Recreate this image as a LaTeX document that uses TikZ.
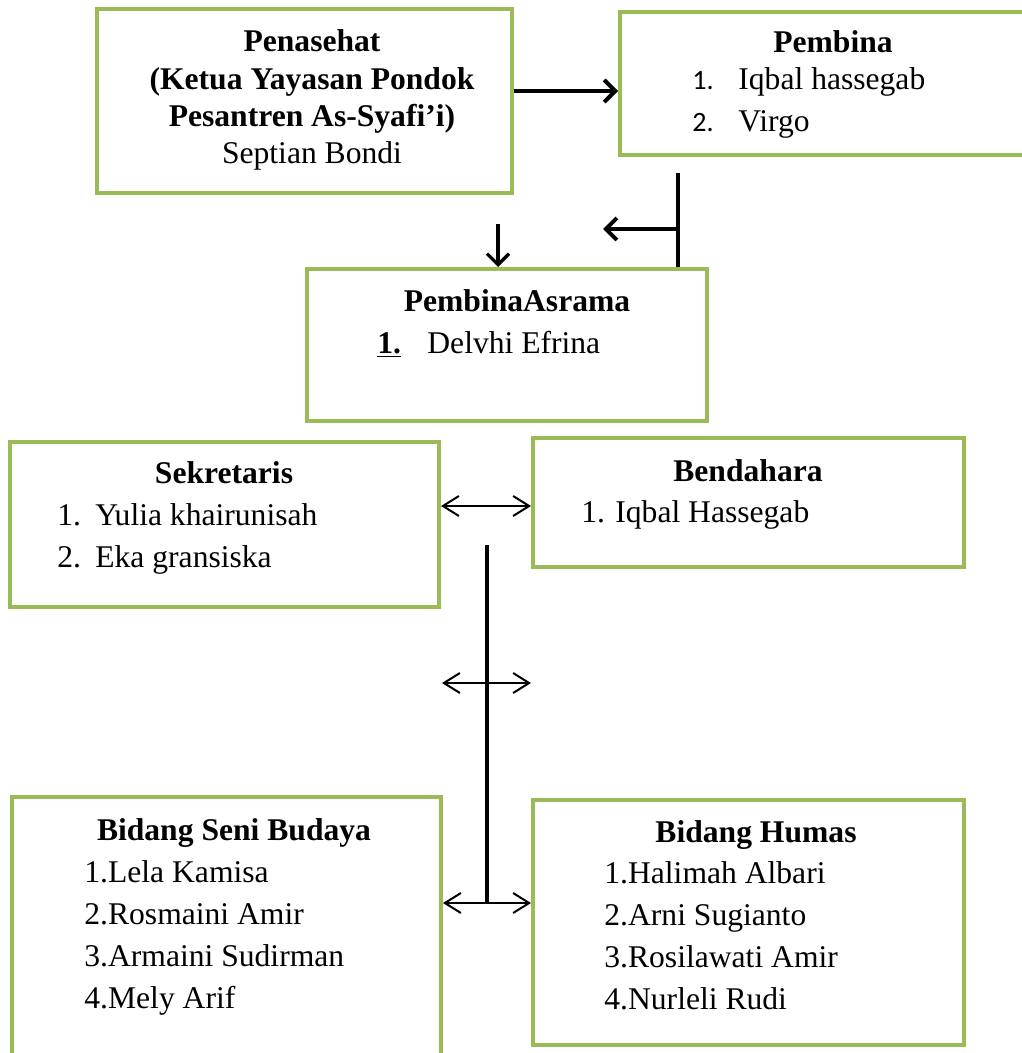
\documentclass[tikz,border=0pt]{standalone}
\usepackage{fontspec}
\setmainfont{Liberation Serif}
\newfontfamily\numfont{Carlito}
\usetikzlibrary{arrows.meta}
\definecolor{boxgreen}{RGB}{155,187,89}

\begin{document}
\begin{tikzpicture}[
        x=0.5pt, y=-0.5pt,
        box/.style={
        rectangle, draw=boxgreen,
        line width=2pt, inner sep=0pt},
        title/.style={anchor=base, inner sep=0pt,
        font=\fontsize{15.8}{18}\selectfont\bfseries},
        item/.style={anchor=base west, inner sep=0pt,
        font=\fontsize{15.8}{18}\selectfont},
        thickarrow/.style={line width=2pt,
        -{Straight Barb[length=5.5pt,width=11pt]}},
        thinarrow/.style={line width=1pt,
        {Straight Barb[length=8pt,width=10pt]}-{Straight Barb[length=8pt,width=10pt]}},
        spine/.style={line width=2pt},
        ]

        \useasboundingbox (0,0) rectangle (1021,1053);

        % boxes
        \node (pen) [box, minimum width=207.5pt, minimum height=92pt] at (304.5,101){};
        \node (pem) [box, minimum width=210pt, minimum height=71.5pt] at (830,83.5){};
        \node (asr) [box, minimum width=200pt, minimum height=76pt] at (507,345){};
        \node (sek) [box, minimum width=214.5pt, minimum height=82.5pt] at (224.5,524.5){};
        \node (ben) [box, minimum width=215.5pt, minimum height=64.5pt] at (748.5,502.5){};
        \node (sen) [box, minimum width=214.5pt, minimum height=136.5pt] at (226.5,933.5){};
        \node (hum) [box, minimum width=215.5pt, minimum height=122.5pt] at (748.5,922.5){};

        % Penasehat
        \node (pen1) [title] at (312,52){Penasehat};
        \node (pen2) [title] at (312,90){(Ketua Yayasan Pondok};
        \node (pen3) [title] at (312,127){Pesantren As-Syafi’i)};
        \node (pen4) [title, font=\fontsize{15.8}{18}\selectfont] at (312,164){Septian Bondi};

        % Pembina
        \node (pem0) [title] at (833,53){Pembina};
        \node (pem1) [item] at (692,90){\makebox[23pt][l]{\numfont\fontsize{14}{16}\selectfont 1.}Iqbal hassegab};
        \node (pem2) [item] at (692,132){\makebox[23pt][l]{\numfont\fontsize{14}{16}\selectfont 2.}Virgo};

        % Pembina Asrama
        \node (asr0) [title] at (517,312){PembinaAsrama};
        \node (asr1) [item] at (377,353){\makebox[25pt][l]{\underline{\textbf{1.}}}Delvhi Efrina};

        % Sekretaris
        \node (sek0) [title] at (224,483){Sekretaris};
        \node (sek1) [item] at (57,525){\makebox[19pt][l]{1.}Yulia khairunisah};
        \node (sek2) [item] at (57,567){\makebox[19pt][l]{2.}Eka gransiska};

        % Bendahara
        \node (ben0) [title] at (748,481){Bendahara};
        \node (ben1) [item] at (581,522){\makebox[17pt][l]{1.}Iqbal Hassegab};

        % Bidang Seni Budaya
        \node (sen0) [title] at (234,840){Bidang Seni Budaya};
        \node (sen1) [item] at (84,882){1.Lela Kamisa};
        \node (sen2) [item] at (84,924){2.Rosmaini Amir};
        \node (sen3) [item] at (84,966){3.Armaini Sudirman};
        \node (sen4) [item] at (84,1008){4.Mely Arif};

        % Bidang Humas
        \node (hum0) [title] at (756,842){Bidang Humas};
        \node (hum1) [item] at (604,883){1.Halimah Albari};
        \node (hum2) [item] at (604,925){2.Arni Sugianto};
        \node (hum3) [item] at (604,967){3.Rosilawati Amir};
        \node (hum4) [item] at (604,1009){4.Nurleli Rudi};

        % connectors
        \coordinate (pemfoot) at (678,173);
        \coordinate (pemmid) at (678,229);
        \coordinate (pemtip) at (603,229);
        \coordinate (pendrop) at (498,224);
        \coordinate (spinetop) at (487,545);
        \coordinate (spinemid) at (487,683);
        \coordinate (spinebot) at (487,903);

        \draw [thickarrow] ([yshift=5pt]pen.east) -- ([yshift=5pt]pen.east -| pem.west);
        \draw [spine] (pemfoot) -- (pemfoot |- asr.north);
        \draw [thickarrow] (pemmid) -- (pemtip);
        \draw [thickarrow, line width=1.6pt] (pendrop) -- (pendrop |- asr.north);
        \draw [thinarrow] ([yshift=-1.75pt]ben.west -| sek.east) -- ([yshift=-1.75pt]ben.west);
        \draw [spine] (spinetop) -- (spinebot);
        \draw [thinarrow] ([xshift=0.5pt]spinemid -| sek.east) -- (spinemid -| ben.west);
        \draw [thinarrow] (spinebot -| sen.east) -- (spinebot -| hum.west);
    \end{tikzpicture}
\end{document}
